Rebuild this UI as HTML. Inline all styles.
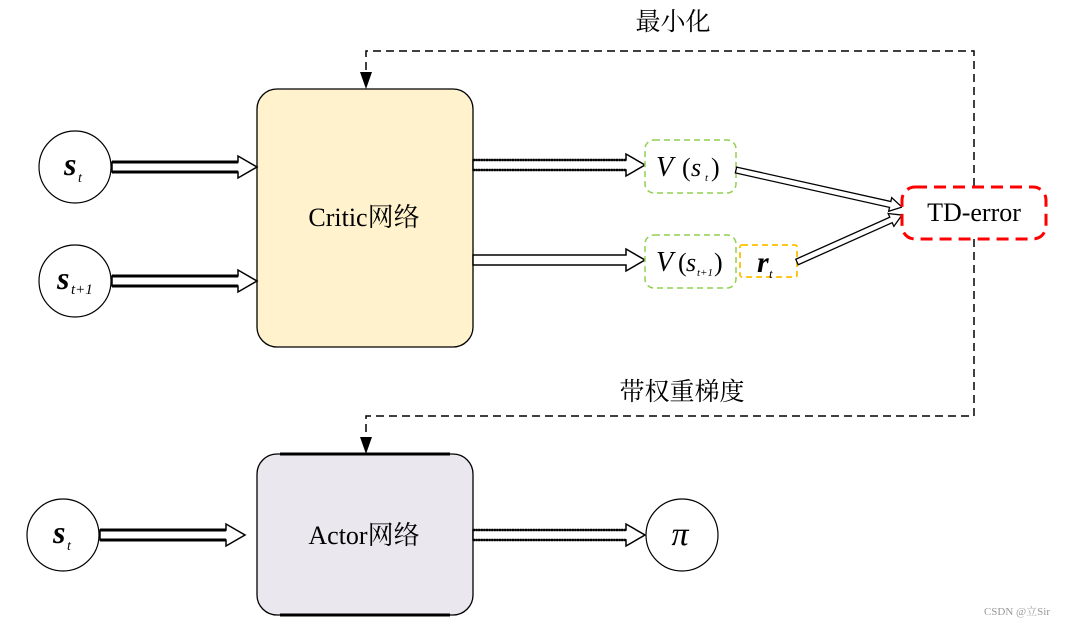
<!DOCTYPE html>
<html><head><meta charset="utf-8"><style>
html,body{margin:0;padding:0;background:#fff;}
svg{display:block;}
text{font-family:"Liberation Serif","Noto Serif CJK SC",serif;}
</style></head><body>
<svg width="1066" height="625" viewBox="0 0 1066 625" xmlns="http://www.w3.org/2000/svg">
<defs>
<g id="arr145"><polygon points="0,-5 126,-5 126,-11 145,0 126,11 126,5 0,5" fill="#fff" stroke="#000" stroke-width="1.5"/><line x1="0" y1="-5" x2="126" y2="-5" stroke="#000" stroke-width="3"/><line x1="0" y1="5" x2="126" y2="5" stroke="#000" stroke-width="3"/></g>
<g id="arr172"><polygon points="0,-5 153,-5 153,-11 172,0 153,11 153,5 0,5" fill="#fff" stroke="#000" stroke-width="1.5"/><line x1="0" y1="-5" x2="153" y2="-5" stroke="#000" stroke-width="2.5" stroke-dasharray="2 0.6"/><line x1="0" y1="5" x2="153" y2="5" stroke="#000" stroke-width="2.5" stroke-dasharray="2 0.6"/></g>
</defs>

<rect x="257" y="89" width="216" height="258" rx="20" fill="#fff2cc" stroke="#000" stroke-width="1.3"/>
<text x="364" y="226" font-size="26" text-anchor="middle">Critic网络</text>

<rect x="257" y="454" width="216" height="161" rx="20" fill="#eae7ef" stroke="#000" stroke-width="1.3"/>
<line x1="280" y1="454" x2="450" y2="454" stroke="#000" stroke-width="3"/>
<line x1="280" y1="615" x2="450" y2="615" stroke="#000" stroke-width="3"/>
<text x="364" y="544" font-size="26" text-anchor="middle">Actor网络</text>

<circle cx="75" cy="167" r="36" fill="#fff" stroke="#000" stroke-width="1.2"/>
<text x="64" y="175" font-size="32" font-style="italic" font-weight="bold">s</text><text x="78" y="182" font-size="14" font-style="italic">t</text>
<circle cx="75" cy="281" r="36" fill="#fff" stroke="#000" stroke-width="1.2"/>
<text x="57" y="289" font-size="32" font-style="italic" font-weight="bold">s</text><text x="71" y="294" font-size="15" font-style="italic">t+1</text>
<circle cx="63" cy="535" r="36" fill="#fff" stroke="#000" stroke-width="1.2"/>
<text x="53" y="543" font-size="32" font-style="italic" font-weight="bold">s</text><text x="67" y="550" font-size="14" font-style="italic">t</text>
<circle cx="682" cy="535" r="36" fill="#fff" stroke="#000" stroke-width="1.2"/>
<text x="680" y="545" font-size="34" font-style="italic" text-anchor="middle">π</text>

<use href="#arr145" transform="translate(112,167)"/>
<use href="#arr145" transform="translate(112,281)"/>
<use href="#arr145" transform="translate(100,535)"/>
<use href="#arr172" transform="translate(473,165)"/>
<g transform="translate(473,260)"><polygon points="0,-5 153,-5 153,-11 172,0 153,11 153,5 0,5" fill="#fff" stroke="#000" stroke-width="1.5"/></g>
<use href="#arr172" transform="translate(473,535)"/>

<rect x="645" y="140" width="91" height="53" rx="9" fill="#fff" stroke="#92d050" stroke-width="1.5" stroke-dasharray="6 4"/>
<text x="656" y="176" font-size="28" font-style="italic">V</text><text x="682" y="176" font-size="26">(</text><text x="691" y="176" font-size="26" font-style="italic">s</text><text x="705" y="181" font-size="11" font-style="italic">t</text><text x="711" y="176" font-size="26">)</text>
<rect x="645" y="235" width="91" height="53" rx="9" fill="#fff" stroke="#92d050" stroke-width="1.5" stroke-dasharray="6 4"/>
<text x="656" y="271" font-size="28" font-style="italic">V</text><text x="678" y="271" font-size="26">(</text><text x="686" y="271" font-size="26" font-style="italic">s</text><text x="697" y="276" font-size="11" font-style="italic">t+1</text><text x="714" y="271" font-size="26">)</text>
<rect x="740" y="245" width="57" height="32" rx="2" fill="#fff" stroke="#ffc000" stroke-width="1.8" stroke-dasharray="6 4"/>
<text x="757" y="272" font-size="30" font-style="italic" font-weight="bold">r</text><text x="769" y="278" font-size="13" font-style="italic">t</text>

<g transform="translate(736,170) rotate(12.6)"><polygon points="0,-3 158,-3 158,-7 170,0 158,7 158,3 0,3" fill="#fff" stroke="#000" stroke-width="1.3"/></g>
<g transform="translate(797,262) rotate(-24.1)"><polygon points="0,-3 103,-3 103,-7 115,0 103,7 103,3 0,3" fill="#fff" stroke="#000" stroke-width="1.3"/></g>

<polyline points="974,186 974,51 366,51 366,76" fill="none" stroke="#000" stroke-width="1.5" stroke-dasharray="8 5"/>
<polygon points="360,72 372,72 366,89" fill="#000"/>
<polyline points="974,239 974,416 366,416 366,441" fill="none" stroke="#000" stroke-width="1.5" stroke-dasharray="8 5"/>
<polygon points="360,437 372,437 366,454" fill="#000"/>

<rect x="902" y="187" width="144" height="52" rx="13" fill="#fff" stroke="#ff0000" stroke-width="3" stroke-dasharray="12 7"/>
<text x="974" y="221" font-size="26" text-anchor="middle">TD-error</text>

<text x="673" y="30" font-size="25" text-anchor="middle" font-family="Noto Sans CJK SC, sans-serif">最小化</text>
<text x="682" y="400" font-size="25" text-anchor="middle" font-family="Noto Sans CJK SC, sans-serif">带权重梯度</text>

<text x="1050" y="615" font-size="11" fill="#999" text-anchor="end" font-family="Liberation Sans, Noto Sans CJK SC, sans-serif">CSDN @立Sir</text>
</svg>
</body></html>
